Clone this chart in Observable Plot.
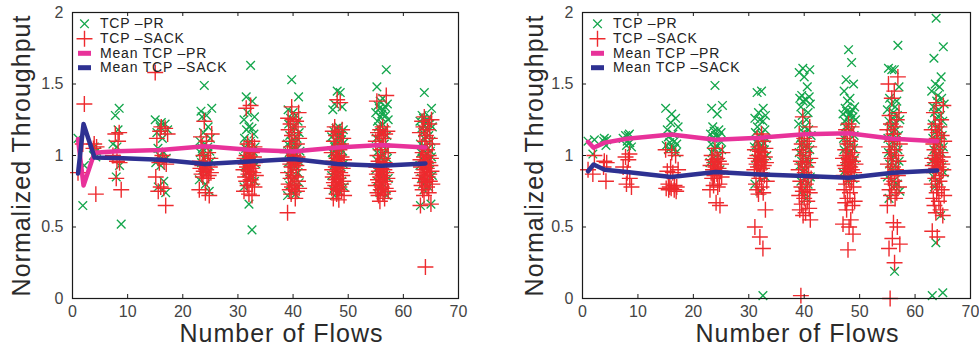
<!DOCTYPE html>
<html>
<head>
<meta charset="utf-8">
<script src="https://cdn.jsdelivr.net/npm/d3@7"></script>
<script src="https://cdn.jsdelivr.net/npm/@observablehq/plot@0.6"></script>
<style>
  html, body { margin: 0; padding: 0; background: #fff; }
  #wrap { position: relative; width: 979px; height: 349px; overflow: hidden; background: #fff; }
  .panel { position: absolute; top: 0; }
  .cap { position: absolute; top: 345px; line-height: 21px; font: bold 21px "Liberation Serif", "Times New Roman", serif; color: #111; white-space: nowrap; }
</style>
</head>
<body>
<div id="wrap"></div>
<script>
// ---------- data ----------
const flows = [1, 2, 4, 8, 16, 24, 32, 40, 48, 56, 64];
const xTicks = [0, 10, 20, 30, 40, 50, 60, 70];
const yTicks = [0, 0.5, 1, 1.5, 2];
const seriesNames = ["TCP \u2013PR", "TCP \u2013SACK", "Mean TCP \u2013PR", "Mean TCP \u2013SACK"];
const xLabel = "Number of Flows";
const yLabel = "Normalized Throughput";
const captions = ["d TCP-SACK Normalized Throughput", "Single Bottleneck Topology with RED"];

// Left panel
const leftPR = [
  [1.12],
  [0.93, 0.65],
  [1.06, 1.03, 1.0, 0.99],
  [1.33, 1.28, 1.18, 1.08, 1.06, 0.93, 0.85, 0.52],
  [1.25, 1.23, 1.22, 1.2, 1.18, 1.16, 1.12, 1.05, 1.02, 1.0, 0.98, 0.95, 0.93, 0.82, 0.78, 0.74],
  [1.49, 1.33, 1.31, 1.28, 1.27, 1.2, 1.16, 1.12, 1.1, 1.08, 1.06, 1.05, 1.03, 1.02, 1.0, 0.98, 0.96, 0.95, 0.93, 0.9, 0.88, 0.83, 0.8, 0.75],
  [1.63, 1.41, 1.38, 1.3, 1.27, 1.25, 1.2, 1.19, 1.18, 1.15, 1.12, 1.1, 1.08, 1.06, 1.05, 1.03, 1.02, 1.0, 0.99, 0.98, 0.97, 0.95, 0.94, 0.92, 0.9, 0.88, 0.86, 0.84, 0.82, 0.78, 0.66, 0.48],
  [1.53, 1.41, 1.32, 1.3, 1.28, 1.26, 1.24, 1.22, 1.2, 1.18, 1.16, 1.14, 1.12, 1.1, 1.09, 1.08, 1.06, 1.05, 1.04, 1.03, 1.02, 1.0, 0.99, 0.98, 0.97, 0.96, 0.95, 0.94, 0.92, 0.9, 0.88, 0.86, 0.85, 0.83, 0.81, 0.79, 0.77, 0.75, 0.73, 0.72],
  [1.45, 1.44, 1.36, 1.34, 1.32, 1.2, 1.19, 1.18, 1.17, 1.16, 1.15, 1.14, 1.13, 1.12, 1.11, 1.1, 1.09, 1.08, 1.07, 1.06, 1.05, 1.04, 1.03, 1.02, 1.01, 1.0, 0.99, 0.98, 0.97, 0.96, 0.95, 0.94, 0.93, 0.92, 0.9, 0.88, 0.86, 0.84, 0.82, 0.8, 0.78, 0.76, 0.75, 0.72],
  [1.6, 1.48, 1.4, 1.38, 1.36, 1.35, 1.34, 1.33, 1.32, 1.3, 1.29, 1.28, 1.27, 1.25, 1.24, 1.22, 1.2, 1.18, 1.16, 1.14, 1.12, 1.1, 1.08, 1.06, 1.04, 1.02, 1.0, 0.99, 0.98, 0.96, 0.95, 0.94, 0.92, 0.9, 0.88, 0.86, 0.85, 0.84, 0.82, 0.8, 0.78, 0.76, 0.74, 0.72],
  [1.44, 1.33, 1.28, 1.27, 1.26, 1.25, 1.24, 1.23, 1.22, 1.21, 1.2, 1.19, 1.18, 1.16, 1.14, 1.12, 1.1, 1.08, 1.06, 1.05, 1.04, 1.03, 1.02, 1.01, 1.0, 0.99, 0.98, 0.97, 0.96, 0.95, 0.93, 0.92, 0.9, 0.88, 0.86, 0.84, 0.82, 0.8, 0.78, 0.76, 0.66, 0.65]
];
const leftSACK = [
  [0.88],
  [1.36, 1.08],
  [1.08, 1.06, 1.05, 0.73],
  [1.16, 1.15, 1.1, 1.0, 0.96, 0.95, 0.84, 0.76],
  [1.58, 1.2, 1.19, 1.17, 1.15, 1.12, 1.0, 0.98, 0.96, 0.95, 0.94, 0.85, 0.78, 0.77, 0.75, 0.65],
  [1.24, 1.15, 1.13, 1.1, 1.06, 1.02, 1.0, 0.98, 0.96, 0.95, 0.94, 0.93, 0.92, 0.91, 0.9, 0.89, 0.88, 0.87, 0.86, 0.85, 0.84, 0.76, 0.74, 0.72],
  [1.35, 1.33, 1.1, 1.08, 1.06, 1.05, 1.04, 1.02, 1.0, 0.99, 0.98, 0.97, 0.96, 0.95, 0.94, 0.93, 0.92, 0.91, 0.9, 0.89, 0.88, 0.87, 0.86, 0.85, 0.83, 0.82, 0.8, 0.79, 0.78, 0.75, 0.73, 0.72],
  [1.34, 1.3, 1.26, 1.25, 1.24, 1.22, 1.2, 1.18, 1.16, 1.14, 1.12, 1.1, 1.08, 1.06, 1.04, 1.02, 1.0, 0.99, 0.98, 0.97, 0.96, 0.95, 0.94, 0.93, 0.92, 0.9, 0.88, 0.86, 0.85, 0.84, 0.82, 0.8, 0.79, 0.78, 0.77, 0.76, 0.75, 0.73, 0.7, 0.6],
  [1.39, 1.37, 1.2, 1.18, 1.17, 1.16, 1.14, 1.12, 1.1, 1.08, 1.06, 1.04, 1.02, 1.0, 0.99, 0.98, 0.97, 0.96, 0.95, 0.94, 0.93, 0.92, 0.91, 0.9, 0.89, 0.88, 0.87, 0.86, 0.85, 0.84, 0.83, 0.82, 0.81, 0.8, 0.79, 0.78, 0.77, 0.76, 0.75, 0.73, 0.72, 0.7, 0.69],
  [1.42, 1.38, 1.2, 1.18, 1.17, 1.16, 1.15, 1.14, 1.12, 1.1, 1.08, 1.06, 1.04, 1.02, 1.0, 0.98, 0.96, 0.95, 0.94, 0.93, 0.92, 0.91, 0.9, 0.89, 0.88, 0.87, 0.86, 0.85, 0.84, 0.83, 0.82, 0.81, 0.8, 0.79, 0.78, 0.77, 0.76, 0.75, 0.74, 0.73, 0.72, 0.7, 0.68],
  [1.27, 1.25, 1.24, 1.22, 1.2, 1.18, 1.16, 1.14, 1.12, 1.1, 1.08, 1.06, 1.04, 1.02, 1.0, 0.99, 0.98, 0.97, 0.96, 0.95, 0.94, 0.93, 0.92, 0.91, 0.9, 0.89, 0.88, 0.87, 0.86, 0.85, 0.84, 0.83, 0.82, 0.81, 0.8, 0.79, 0.78, 0.76, 0.74, 0.72, 0.66, 0.65, 0.22]
];
const leftMeanPR = [1.115, 0.79, 1.02, 1.03, 1.038, 1.064, 1.04, 1.028, 1.056, 1.073, 1.056];
const leftMeanSACK = [0.874, 1.22, 0.986, 0.982, 0.97, 0.94, 0.958, 0.975, 0.94, 0.928, 0.944];

// Right panel
const rightPR = [
  [1.1],
  [1.11, 1.01],
  [1.12, 1.11, 1.1, 1.07],
  [1.15, 1.14, 1.14, 1.12, 1.1, 1.09, 1.07, 1.06],
  [1.33, 1.29, 1.26, 1.23, 1.2, 1.18, 1.15, 1.13, 1.1, 1.09, 1.08, 1.07, 1.06, 1.05, 1.04, 1.02],
  [1.49, 1.35, 1.33, 1.29, 1.2, 1.18, 1.17, 1.16, 1.15, 1.14, 1.13, 1.12, 1.1, 1.08, 1.06, 1.05, 1.04, 1.02, 1.0, 0.98, 0.96, 0.95, 0.93, 0.9],
  [1.45, 1.44, 1.33, 1.3, 1.28, 1.26, 1.25, 1.24, 1.2, 1.18, 1.16, 1.15, 1.14, 1.12, 1.1, 1.09, 1.08, 1.07, 1.06, 1.05, 1.04, 1.02, 1.0, 0.98, 0.97, 0.95, 0.93, 0.9, 0.85, 0.8, 0.75, 0.02],
  [1.61, 1.6, 1.58, 1.55, 1.48, 1.42, 1.41, 1.4, 1.39, 1.38, 1.36, 1.34, 1.3, 1.28, 1.25, 1.22, 1.2, 1.18, 1.16, 1.14, 1.12, 1.1, 1.08, 1.06, 1.05, 1.04, 1.02, 1.0, 0.98, 0.96, 0.95, 0.93, 0.9, 0.88, 0.85, 0.82, 0.8, 0.75, 0.7],
  [1.74, 1.65, 1.53, 1.5, 1.45, 1.4, 1.38, 1.34, 1.33, 1.32, 1.31, 1.3, 1.29, 1.28, 1.27, 1.26, 1.25, 1.24, 1.22, 1.2, 1.18, 1.16, 1.14, 1.12, 1.1, 1.08, 1.06, 1.05, 1.04, 1.02, 1.0, 0.98, 0.96, 0.95, 0.93, 0.9, 0.88, 0.86, 0.84, 0.82],
  [1.77, 1.61, 1.6, 1.6, 1.48, 1.4, 1.38, 1.36, 1.34, 1.32, 1.3, 1.28, 1.26, 1.25, 1.24, 1.22, 1.2, 1.18, 1.16, 1.14, 1.12, 1.1, 1.08, 1.06, 1.04, 1.02, 1.0, 0.98, 0.96, 0.94, 0.92, 0.9, 0.88, 0.85, 0.82, 0.8, 0.78, 0.75, 0.7, 0.19],
  [1.96, 1.76, 1.68, 1.55, 1.5, 1.48, 1.45, 1.42, 1.4, 1.38, 1.36, 1.34, 1.32, 1.3, 1.28, 1.26, 1.24, 1.22, 1.2, 1.18, 1.16, 1.14, 1.12, 1.1, 1.08, 1.06, 1.04, 1.02, 1.0, 0.98, 0.96, 0.94, 0.92, 0.9, 0.88, 0.85, 0.82, 0.78, 0.58, 0.39, 0.04, 0.02]
];
const rightSACK = [
  [0.9],
  [1.0, 0.87],
  [0.96, 0.95, 0.92, 0.82],
  [1.01, 0.99, 0.97, 0.92, 0.88, 0.84, 0.8, 0.78],
  [1.04, 1.02, 1.0, 0.92, 0.9, 0.89, 0.88, 0.8, 0.79, 0.78, 0.78, 0.77, 0.77, 0.76, 0.76, 0.75],
  [1.05, 1.02, 1.0, 0.98, 0.97, 0.96, 0.95, 0.94, 0.93, 0.92, 0.91, 0.9, 0.89, 0.88, 0.87, 0.86, 0.85, 0.84, 0.8, 0.79, 0.78, 0.76, 0.67, 0.65],
  [1.15, 1.12, 1.1, 1.06, 1.05, 1.04, 1.03, 1.02, 1.0, 0.99, 0.98, 0.97, 0.96, 0.95, 0.94, 0.93, 0.92, 0.91, 0.9, 0.88, 0.86, 0.84, 0.82, 0.8, 0.78, 0.76, 0.74, 0.73, 0.62, 0.5, 0.43, 0.35],
  [1.27, 1.2, 1.15, 1.12, 1.1, 1.08, 1.06, 1.04, 1.02, 1.0, 0.98, 0.96, 0.95, 0.94, 0.92, 0.9, 0.88, 0.86, 0.85, 0.84, 0.82, 0.8, 0.78, 0.76, 0.75, 0.74, 0.72, 0.7, 0.68, 0.66, 0.63, 0.62, 0.6, 0.58, 0.55, 0.02],
  [1.22, 1.2, 1.18, 1.15, 1.12, 1.1, 1.08, 1.06, 1.04, 1.02, 1.0, 0.99, 0.98, 0.97, 0.96, 0.95, 0.94, 0.93, 0.92, 0.91, 0.9, 0.89, 0.88, 0.86, 0.84, 0.82, 0.8, 0.78, 0.76, 0.74, 0.7, 0.68, 0.67, 0.65, 0.62, 0.55, 0.52, 0.5, 0.45, 0.34],
  [1.55, 1.5, 1.45, 1.4, 1.3, 1.28, 1.25, 1.22, 1.2, 1.18, 1.15, 1.12, 1.1, 1.08, 1.06, 1.04, 1.02, 1.0, 0.98, 0.96, 0.94, 0.92, 0.9, 0.88, 0.86, 0.84, 0.82, 0.8, 0.78, 0.76, 0.74, 0.72, 0.7, 0.65, 0.53, 0.5, 0.42, 0.38, 0.35, 0.25, 0.0],
  [1.37, 1.35, 1.3, 1.25, 1.22, 1.2, 1.18, 1.16, 1.14, 1.12, 1.1, 1.08, 1.06, 1.04, 1.02, 1.0, 0.99, 0.98, 0.97, 0.96, 0.95, 0.94, 0.93, 0.92, 0.91, 0.9, 0.88, 0.86, 0.84, 0.82, 0.8, 0.78, 0.76, 0.74, 0.72, 0.7, 0.68, 0.65, 0.62, 0.6, 0.58, 0.47, 0.43]
];
const rightMeanPR = [1.096, 1.054, 1.09, 1.117, 1.147, 1.11, 1.124, 1.148, 1.155, 1.117, 1.1];
const rightMeanSACK = [0.89, 0.937, 0.9, 0.884, 0.849, 0.884, 0.867, 0.856, 0.844, 0.879, 0.895];

// horizontal spread pattern of the flows within a group (in flow units)
const jitter = [0, 0.55, -0.45, 0.9, -0.8, 0.25, -0.2, 1.1, -0.6, 0.7, -0.35, 0.4, -1.0, 0.1, 0.8, -0.1, 1.25, -0.7, 0.3, -0.5, 0.6, -0.25, 1.0, -0.9];

// ---------- styles ----------
const GREEN = "#14a64c", RED = "#ee2a2e", PINK = "#e8329a", BLUE = "#2e3192";
const FONT = "'Liberation Sans', Arial, Helvetica, sans-serif";
const barSymbol = { draw(ctx) { ctx.rect(-6.5, -2.5, 13, 5); } };
const legendRows = [11.3, 26.3, 40.8, 55.2];

function points(groups) {
  const out = [];
  groups.forEach((vals, gi) => {
    const n = flows[gi];
    const s = Math.min(1, n / 12);
    vals.forEach((v, i) => out.push({ x: n + s * jitter[(i + gi * 3) % jitter.length], y: v }));
  });
  return out;
}
function means(vals) { return vals.map((v, i) => ({ x: flows[i], y: v })); }

function panel({ pr, sack, mPR, mSACK, W, ml, mr, legDx, yLabDx, xLabDx }) {
  const tx = 0.73, ty = 0.028;
  const legendTexts = seriesNames.map((name, i) =>
    Plot.text([name], { text: d => d, frameAnchor: "top-left", dx: legDx + 15.5, dy: legendRows[i],
      textAnchor: "start", lineAnchor: "middle", fontSize: 14, fill: "#222" }));
  return Plot.plot({
    width: W, height: 349,
    marginLeft: ml, marginRight: mr, marginTop: 12, marginBottom: 51,
    x: { domain: [0, 70] },
    y: { domain: [0, 2] },
    style: { fontFamily: FONT, background: "#fff", overflow: "visible" },
    marks: [
      Plot.dot(points(pr), { x: "x", y: "y", symbol: "times", r: 4, stroke: GREEN, strokeWidth: 1.35 }),
      Plot.dot(points(sack), { x: "x", y: "y", symbol: "plus", r: 5.2, stroke: RED, strokeWidth: 1.4 }),
      Plot.line(means(mPR), { x: "x", y: "y", stroke: PINK, strokeWidth: 4.5 }),
      Plot.line(means(mSACK), { x: "x", y: "y", stroke: BLUE, strokeWidth: 4.5 }),
      Plot.frame({ stroke: "#1a1a1a", strokeWidth: 1.2 }),
      Plot.ruleX(xTicks, { x: d => d, y1: 0, y2: ty, stroke: "#1a1a1a" }),
      Plot.ruleX(xTicks, { x: d => d, y1: 2, y2: 2 - ty, stroke: "#1a1a1a" }),
      Plot.ruleY(yTicks, { y: d => d, x1: 0, x2: tx, stroke: "#1a1a1a" }),
      Plot.ruleY(yTicks, { y: d => d, x1: 70, x2: 70 - tx, stroke: "#1a1a1a" }),
      Plot.axisX(xTicks, { tickSize: 0, tickPadding: 7, fontSize: 16, fill: "#444", label: null, tickFormat: d => String(d) }),
      Plot.axisY(yTicks, { tickSize: 0, tickPadding: 9, fontSize: 16, fill: "#444", label: null, tickFormat: d => String(d) }),
      Plot.text([yLabel], { text: d => d, frameAnchor: "left", textAnchor: "middle", lineAnchor: "middle", dx: yLabDx, rotate: -90, fontSize: 25, fill: "#2a2a2a" }),
      Plot.text([xLabel], { text: d => d, frameAnchor: "bottom", textAnchor: "middle", lineAnchor: "middle", dx: xLabDx, dy: 35.5, fontSize: 25, fill: "#2a2a2a" }),
      // legend
      Plot.dot([0], { frameAnchor: "top-left", dx: legDx, dy: legendRows[0], symbol: "times", r: 4, stroke: GREEN, strokeWidth: 1.35 }),
      Plot.dot([0], { frameAnchor: "top-left", dx: legDx, dy: legendRows[1], symbol: "plus", r: 5.2, stroke: RED, strokeWidth: 1.4 }),
      Plot.dot([0], { frameAnchor: "top-left", dx: legDx, dy: legendRows[2], symbol: barSymbol, fill: PINK, stroke: "none" }),
      Plot.dot([0], { frameAnchor: "top-left", dx: legDx, dy: legendRows[3], symbol: barSymbol, fill: BLUE, stroke: "none" }),
      ...legendTexts
    ]
  });
}

const wrap = document.getElementById("wrap");
const configs = [
  { pr: leftPR, sack: leftSACK, mPR: leftMeanPR, mSACK: leftMeanSACK, W: 490, ml: 72, mr: 32, legDx: 12, yLabDx: -51, xLabDx: 16, left: 0 },
  { pr: rightPR, sack: rightSACK, mPR: rightMeanPR, mSACK: rightMeanSACK, W: 489, ml: 92, mr: 9, legDx: 15, yLabDx: -48, xLabDx: 21, left: 490 }
];
configs.forEach((c, k) => {
  const svg = panel(c);
  svg.classList.add("panel");
  svg.style.left = c.left + "px";
  wrap.appendChild(svg);
  d3.select(svg).selectAll("text").each(function () {
    const t = this.textContent;
    if (t === xLabel || t === yLabel) this.setAttribute("letter-spacing", "1");
    if (seriesNames.includes(t)) this.setAttribute("letter-spacing", "0.8");
  });
  const cap = document.createElement("div");
  cap.className = "cap";
  cap.textContent = captions[k];
  cap.style.left = (k === 0 ? 27 : 543) + "px";
  wrap.appendChild(cap);
});
</script>
</body>
</html>
